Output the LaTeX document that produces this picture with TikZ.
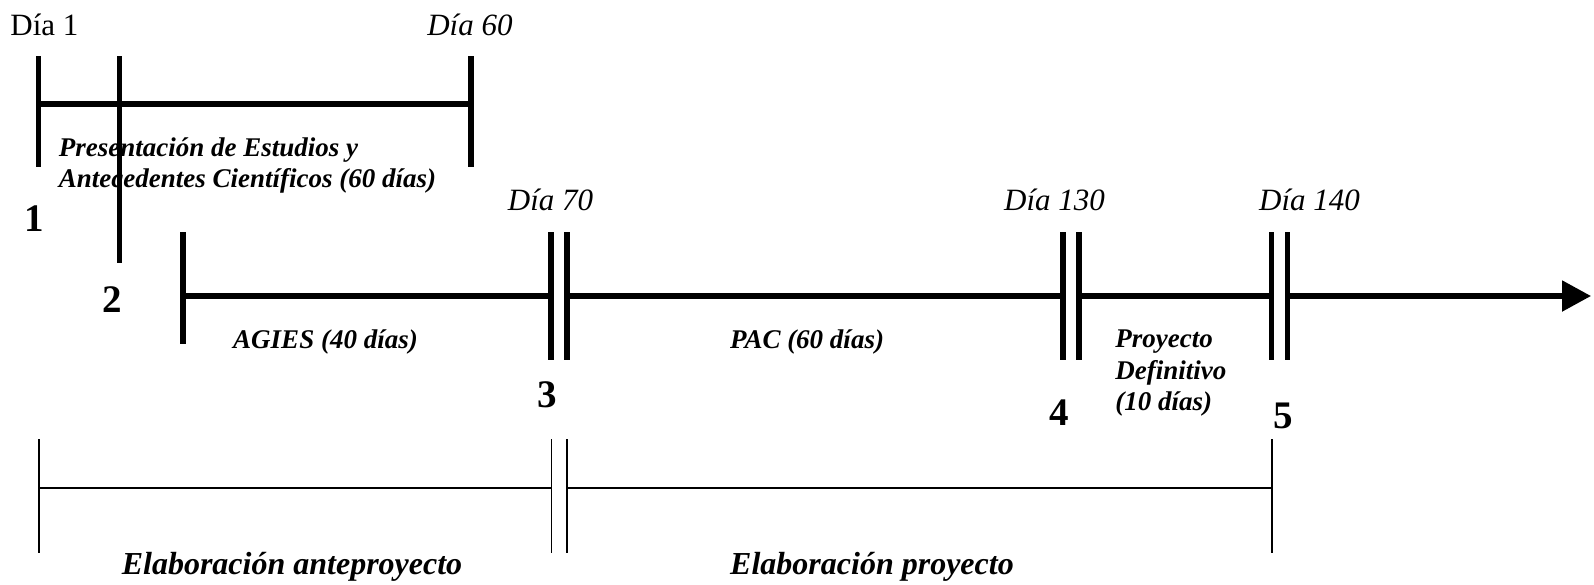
\documentclass[tikz,border=0pt]{standalone}
\usepackage{fontspec}
\setmainfont{Liberation Serif}
\usetikzlibrary{arrows.meta}
\begin{document}
\begin{tikzpicture}[x=0.5pt,y=-0.5pt,
  thickln/.style={line width=2.65pt},
  thinln/.style={line width=0.7pt},
  daylbl/.style={inner sep=0pt, anchor=base, font=\fontsize{15.5}{18}\selectfont},
  phase/.style={inner sep=0pt, anchor=base west, font=\fontsize{13.5}{16}\selectfont\bfseries\itshape},
  phasec/.style={inner sep=0pt, anchor=base, font=\fontsize{13.5}{16}\selectfont\bfseries\itshape},
  num/.style={inner sep=0pt, anchor=base, font=\fontsize{19.5}{22}\selectfont\bfseries},
  elab/.style={inner sep=0pt, anchor=base, font=\fontsize{16}{19}\selectfont\bfseries\itshape}]
\useasboundingbox (0,0) rectangle (1594,584);

% ---------- top bracket (phase 1) ----------
\coordinate (t1top) at (38.5,56);  \coordinate (t1bot) at (38.5,167);
\coordinate (t2top) at (119.5,56); \coordinate (t2bot) at (119.5,263);
\coordinate (t60top) at (471,56);  \coordinate (t60bot) at (471,167);
\coordinate (b1) at (38.5,104);    \coordinate (b60) at (471,104);
\draw[thickln] (t1top) -- (t1bot);
\draw[thickln] (t2top) -- (t2bot);
\draw[thickln] (t60top) -- (t60bot);
\draw[thickln] (b1) -- (b60);

\node[daylbl, anchor=base west] (d1) at (10,35) {Día 1};
\node[daylbl, anchor=base east, font=\fontsize{15.5}{18}\selectfont\itshape] (d60) at (513,35) {Día 60};

\node[phase] (p1a) at (58.5,156) {Presentación de Estudios y};
\node[phase] (p1b) at (58.5,187) {Antecedentes Científicos (60 días)};

\node[num] (n1) at (34.5,231) {1};
\node[num] (n2) at (112,312) {2};

% ---------- main time line ----------
\coordinate (aTop) at (183,232);    \coordinate (aBot) at (183,344);
\coordinate (c70aT) at (551,232);   \coordinate (c70aB) at (551,360);
\coordinate (c70bT) at (567,232);   \coordinate (c70bB) at (567,360);
\coordinate (c130aT) at (1063,232); \coordinate (c130aB) at (1063,360);
\coordinate (c130bT) at (1079,232); \coordinate (c130bB) at (1079,360);
\coordinate (c140aT) at (1271.5,232); \coordinate (c140aB) at (1271.5,360);
\coordinate (c140bT) at (1287.5,232); \coordinate (c140bB) at (1287.5,360);

\coordinate (m0) at (183,296);
\coordinate (m70a) at (551,296);   \coordinate (m70b) at (567,296);
\coordinate (m130a) at (1063,296); \coordinate (m130b) at (1079,296);
\coordinate (m140a) at (1271.5,296); \coordinate (m140b) at (1287.5,296);
\coordinate (tip) at (1591,296);

\draw[thickln] (aTop) -- (aBot);
\draw[thickln] (c70aT) -- (c70aB);
\draw[thickln] (c70bT) -- (c70bB);
\draw[thickln] (c130aT) -- (c130aB);
\draw[thickln] (c130bT) -- (c130bB);
\draw[thickln] (c140aT) -- (c140aB);
\draw[thickln] (c140bT) -- (c140bB);

\draw[thickln] (m0) -- (m70a);
\draw[thickln] (m70b) -- (m130a);
\draw[thickln] (m130b) -- (m140a);
\draw[thickln, -{Triangle[length=14.5pt,width=15pt]}] (m140b) -- (tip);

\node[daylbl, font=\fontsize{15.5}{18}\selectfont\itshape] (d70) at (550.5,210) {Día 70};
\node[daylbl, font=\fontsize{15.5}{18}\selectfont\itshape] (d130) at (1054.5,210) {Día 130};
\node[daylbl, font=\fontsize{15.5}{18}\selectfont\itshape] (d140) at (1309.5,210) {Día 140};

\node[phasec] (agies) at (325.5,348) {AGIES (40 días)};
\node[phasec] (pac) at (807,348) {PAC (60 días)};
\node[phase] (pd1) at (1115,347) {Proyecto};
\node[phase] (pd2) at (1115,379) {Definitivo};
\node[phase] (pd3) at (1115,410) {(10 días)};

\node[num] (n3) at (547,407) {3};
\node[num] (n4) at (1059,425) {4};
\node[num] (n5) at (1283,428) {5};

% ---------- bottom brackets ----------
\coordinate (e1T) at (39,439);     \coordinate (e1B) at (39,553);
\coordinate (e2T) at (551.5,439);  \coordinate (e2B) at (551.5,553);
\coordinate (e3T) at (567,439);    \coordinate (e3B) at (567,553);
\coordinate (e4T) at (1272,439);   \coordinate (e4B) at (1272,553);
\coordinate (h1) at (39,488);      \coordinate (h2) at (551.5,488);
\coordinate (h3) at (567,488);     \coordinate (h4) at (1272,488);
\draw[thinln] (e1T) -- (e1B);
\draw[thinln] (e2T) -- (e2B);
\draw[thinln] (e3T) -- (e3B);
\draw[thinln] (e4T) -- (e4B);
\draw[thinln] (h1) -- (h2);
\draw[thinln] (h3) -- (h4);

\node[elab] (ea) at (292,574.5) {Elaboración anteproyecto};
\node[elab] (ep) at (872,574.5) {Elaboración proyecto};
\end{tikzpicture}
\end{document}
